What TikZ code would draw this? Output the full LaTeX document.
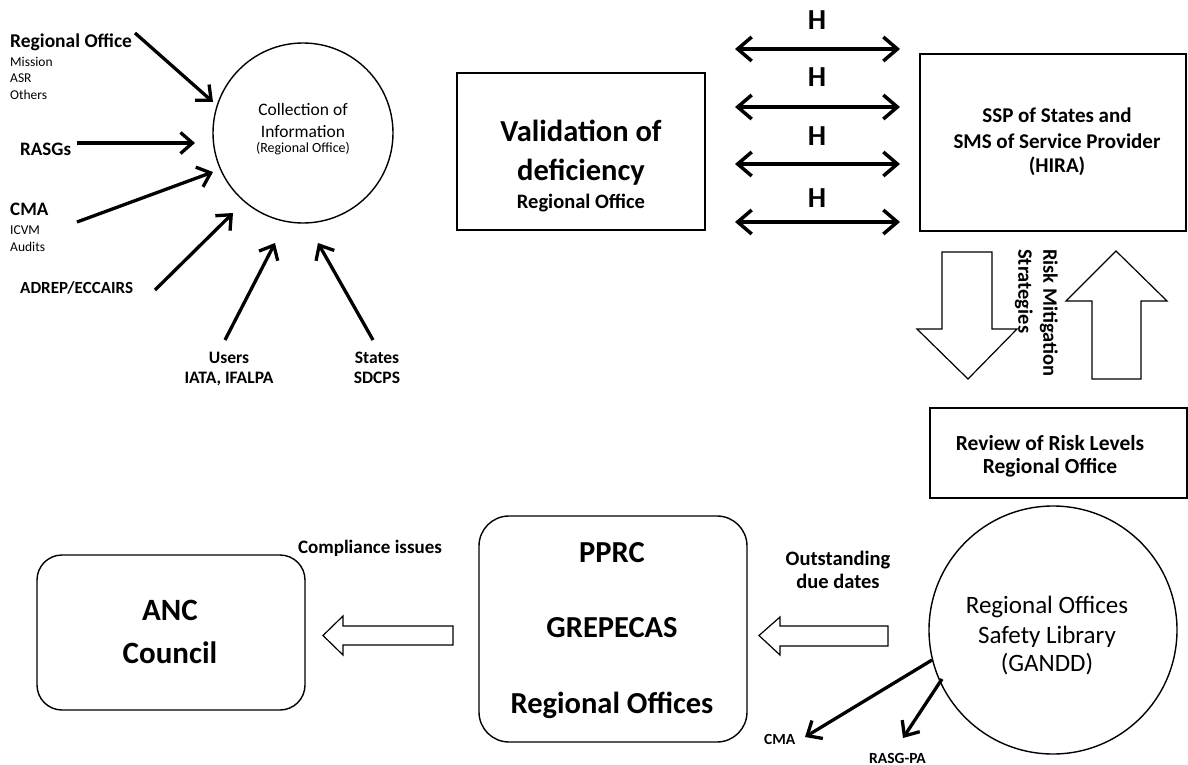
\documentclass[tikz,border=0pt]{standalone}
\usepackage{fontspec}
\setmainfont{Carlito}
\usetikzlibrary{arrows.meta}
\tikzset{
  lbl/.style={inner sep=0pt, font=\bfseries\fontsize{#1}{#1}\selectfont},
  rlbl/.style={inner sep=0pt, font=\fontsize{#1}{#1}\selectfont},
  inarr/.style={line width=3.3pt, -{Straight Barb[length=12pt,width=21pt,line width=3.3pt]}},
  dblarr/.style={line width=3.5pt, {Straight Barb[length=14pt,width=24pt,line width=3.5pt]}-{Straight Barb[length=14pt,width=24pt,line width=3.5pt]}},
  sq/.style={draw, line width=1.4pt},
  blk/.style={draw, line width=1.2pt, fill=white, line join=miter},
}
\begin{document}
\begin{tikzpicture}[x=1pt,y=-1pt]
\useasboundingbox (0,0) rectangle (1188,765);

% Collection circle
\draw[sq] (303,133) circle (90);
\node[rlbl=17.5, anchor=base] (col1) at (303,116) {Collection of};
\node[rlbl=17.5, anchor=base] (col2) at (303,137) {Information};
\node[rlbl=14, anchor=base] (col3) at (303,153) {(Regional Office)};
\coordinate (cA) at (213,102);
\coordinate (cB) at (195,143);
\coordinate (cC) at (213,172);
\coordinate (cD) at (233,213);
\coordinate (cE) at (275,243);
\coordinate (cF) at (318,243);

% left labels
\node[lbl=19.5, anchor=base west] (ro) at (10,48) {Regional Office};
\node[rlbl=13.5, anchor=base west] (mis) at (10,67) {Mission};
\node[rlbl=13.5, anchor=base west] (asr) at (10,83) {ASR};
\node[rlbl=13.5, anchor=base west] (oth) at (10,100) {Others};
\node[lbl=19, anchor=base west] (rasg) at (20,155) {RASGs};
\node[lbl=19, anchor=base west] (cma) at (10,215) {CMA};
\node[rlbl=13.5, anchor=base west] (icvm) at (10,234) {ICVM};
\node[rlbl=13.5, anchor=base west] (aud) at (10,251) {Audits};
\node[lbl=17, anchor=base west] (adrep) at (20,293) {ADREP/ECCAIRS};
\node[lbl=17.5, anchor=base] (users) at (229,363) {Users};
\node[lbl=17.5, anchor=base] (iata) at (229,383) {IATA, IFALPA};
\node[lbl=17.5, anchor=base] (states) at (377,363) {States};
\node[lbl=17.5, anchor=base] (sdcps) at (377,383) {SDCPS};

\coordinate (sA) at (135,33);
\coordinate (sB) at (77,143);
\coordinate (sC) at (77,222);
\coordinate (sD) at (155,290);
\coordinate (sE) at (225,340);
\coordinate (sF) at (373,340);
\draw[inarr] (sA) -- (cA);
\draw[inarr] (sB) -- (cB);
\draw[inarr] (sC) -- (cC);
\draw[inarr] (sD) -- (cD);
\draw[inarr] (sE) -- (cE);
\draw[inarr] (sF) -- (cF);

% Validation box
\draw[sq] (457,73) rectangle (705,230);
\node[lbl=30.5, anchor=base] (v1) at (581,142) {Validation of};
\node[lbl=30.5, anchor=base] (v2) at (581,180) {deficiency};
\node[lbl=20.5, anchor=base] (v3) at (581,208) {Regional Office};

% double arrows
\foreach \yy/\hb [count=\i] in {49/30,107/87,164/146,222/207}{
  \coordinate (dl\i) at (735,\yy);
  \coordinate (dr\i) at (900,\yy);
  \draw[dblarr] (dl\i) -- (dr\i);
  \node[lbl=29, anchor=base] (h\i) at (817,\hb) {H};
}

% SSP box
\draw[sq] (920,54) rectangle (1186,231);
\node[lbl=21, anchor=base] (s1) at (1057,123) {SSP of States and};
\node[lbl=21, anchor=base] (s2) at (1057,148) {SMS of Service Provider};
\node[lbl=21, anchor=base] (s3) at (1057,172) {(HIRA)};

% block arrows down/up
\draw[blk] (942,252) -- (992,252) -- (992,329) -- (1017,329) -- (968,379) -- (917,329) -- (942,329) -- cycle;
\draw[blk] (1116,251) -- (1167,301) -- (1141,301) -- (1141,379) -- (1092,379) -- (1092,301) -- (1066,301) -- cycle;
\node[inner sep=0pt, font=\bfseries\fontsize{20.5}{25}\selectfont, rotate=-90, align=left, anchor=north west] (risk) at (1058,249) {Risk Mitigation\\Strategies};

% Review box
\draw[sq] (930,408) rectangle (1187,498);
\node[lbl=21.5, anchor=base] (r1) at (1050,450) {Review of Risk Levels};
\node[lbl=21.5, anchor=base] (r2) at (1050,473) {Regional Office};

% GANDD circle
\draw[sq] (1053,630) circle (124);
\node[rlbl=25, anchor=base] (g1) at (1047,613) {Regional Offices};
\node[rlbl=25, anchor=base] (g2) at (1047,643) {Safety Library};
\node[rlbl=25, anchor=base] (g3) at (1047,671) {(GANDD)};
\coordinate (gA) at (932,660);
\coordinate (gB) at (942,679);
\coordinate (tA) at (805,737);
\coordinate (tB) at (903,738);
\draw[inarr] (gA) -- (tA);
\draw[inarr] (gB) -- (tB);
\node[lbl=15.5, anchor=base west] (cma2) at (764,744) {CMA};
\node[lbl=15.5, anchor=base west] (rasgpa) at (869,763) {RASG-PA};
\node[lbl=20.5, anchor=base] (o1) at (838,565) {Outstanding};
\node[lbl=20.5, anchor=base] (o2) at (838,588) {due dates};
\draw[blk] (888,626) -- (780,626) -- (780,617) -- (759,635.5) -- (780,655) -- (780,646) -- (888,646) -- cycle;

% PPRC box
\draw[sq, rounded corners=30pt] (479,516) rectangle (747,742);
\node[lbl=30.5, anchor=base] (p1) at (612,562) {PPRC};
\node[lbl=30.5, anchor=base] (p2) at (612,637) {GREPECAS};
\node[lbl=30.5, anchor=base] (p3) at (612,713) {Regional Offices};
\node[lbl=19, anchor=base] (comp) at (370,553) {Compliance issues};
\draw[blk] (453,626) -- (343,626) -- (343,616) -- (323,635.5) -- (343,655) -- (343,645) -- (453,645) -- cycle;

% ANC box
\draw[sq, rounded corners=25pt] (37,555) rectangle (305,710);
\node[lbl=31, anchor=base] (a1) at (170,620) {ANC};
\node[lbl=31, anchor=base] (a2) at (170,663) {Council};
\end{tikzpicture}
\end{document}
